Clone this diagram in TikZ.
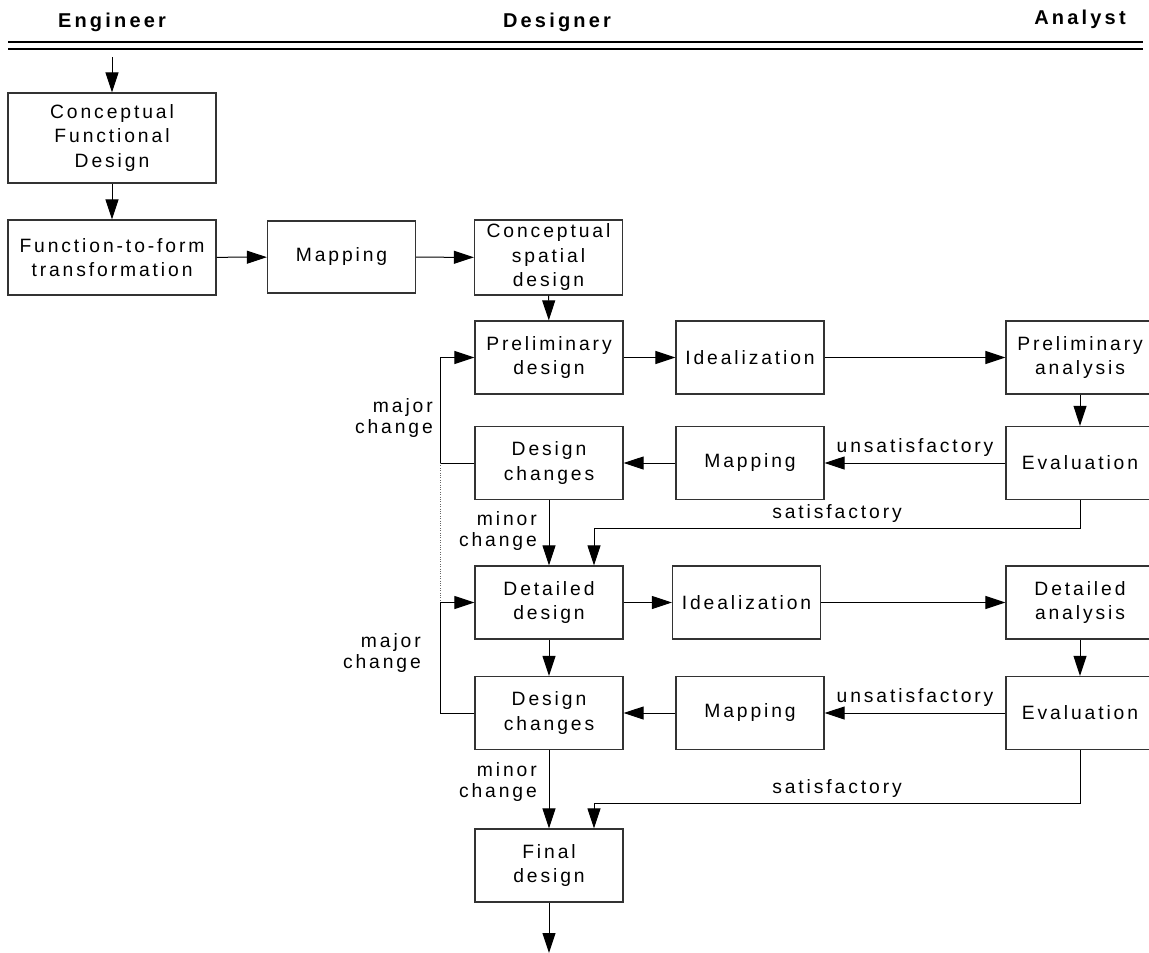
\documentclass[tikz,border=0pt]{standalone}
\usepackage{fontspec}
\setmainfont{Liberation Sans}[LetterSpace=15]
\newfontfamily\headfont{Liberation Sans}[LetterSpace=16]
\usetikzlibrary{arrows.meta}
\usetikzlibrary{positioning}
\tikzset{box/.style = {draw=black!80, line width=1.3pt, minimum width=148, minimum height=73, align=center, inner sep=0, font=\fontsize{19.3}{24.5}\selectfont}}
\tikzset{arr/.style = {-{Triangle[length=20pt, width=13pt]}, line width=1pt}}
\tikzset{lab/.style = {inner sep=0, align=right, font=\fontsize{19.3}{21}\selectfont}}
\tikzset{head/.style = {inner sep=0, font=\headfont\bfseries\fontsize{20}{22}\selectfont}}

\begin{document}
\begin{tikzpicture}[x=1pt, y=-1pt]
      \useasboundingbox (0, 0) rectangle (1149, 953);

      \node [head] (eng) at (112, 22) {Engineer};
      \node [head] (des) at (557, 22) {Designer};
      \node [head] (ana) at (1080, 19) {Analyst};
      \draw [line width=2.2pt] (8, 42) -- (1143, 42);
      \draw [line width=2.2pt] (8, 49) -- (1143, 49);

      \coordinate (start) at (112, 57);
      \node [box, minimum width=208, minimum height=90] (cfd) at (112, 138) {Conceptual\\Functional\\Design};
      \node [box, minimum width=208, minimum height=75] (ftf) at (112, 257.5) {Function-to-form\\transformation};
      \node [box, minimum height=72] (map0) at (341.5, 257) {Mapping};
      \node [box, minimum height=75] (csd) at (548.5, 257.5) {Conceptual\\spatial\\design};

      \node [box] (pd) at (549, 357.5) {Preliminary\\design};
      \node [box] (id1) at (750, 357.5) {Idealization};
      \node [box] (pa) at (1080, 357.5) {Preliminary\\analysis};
      \node [box] (dc1) at (549, 463) {Design\\changes};
      \node [box] (map1) at (750, 463) {Mapping};
      \node [box] (ev1) at (1080, 463) {Evaluation};

      \node [box] (dd) at (549, 602.5) {Detailed\\design};
      \node [box] (id2) at (746.5, 602.5) {Idealization};
      \node [box] (da) at (1080, 602.5) {Detailed\\analysis};
      \node [box] (dc2) at (549, 713) {Design\\changes};
      \node [box] (map2) at (750, 713) {Mapping};
      \node [box] (ev2) at (1080, 713) {Evaluation};

      \node [box] (fd) at (549, 865.5) {Final\\design};
      \coordinate (stop) at (549, 953);

      % engineer column
      \draw [arr] (start) -- (cfd);
      \draw [arr] (cfd) -- (ftf);
      \draw [arr] (ftf) -- (map0);
      \draw [arr] (map0) -- (csd);
      \draw [arr] (csd) -- (pd);

      % preliminary loop
      \draw [arr] (pd) -- (id1);
      \draw [arr] (id1) -- (pa);
      \draw [arr] (pa) -- (ev1);
      \draw [arr] (ev1) -- node [lab, above=6pt] (uns1) {unsatisfactory} (map1);
      \draw [arr] (map1) -- (dc1);
      \draw [arr] (dc1.west) -- ++(-34, 0) coordinate (j1) |- (pd.west);
      \draw [arr] (dc1) -- (dd);
      \draw [arr] (ev1.south) -- ++(0, 28) -| node [lab, pos=0.25, above=5pt] (sat1) {satisfactory} ([xshift=45]dd.north);
      \node [lab, anchor=east] (maj1) at (433, 418) {major\\change};
      \node [lab, anchor=east] (min1) at (537, 531) {minor\\change};

      % detailed loop
      \draw [black!60, dotted] (j1) -- (j1 |- dd.west);
      \draw [arr] (dd) -- (id2);
      \draw [arr] (id2) -- (da);
      \draw [arr] (da) -- (ev2);
      \draw [arr] (ev2) -- node [lab, above=6pt] (uns2) {unsatisfactory} (map2);
      \draw [arr] (map2) -- (dc2);
      \draw [arr] (dc2.west) -- ++(-34, 0) |- (dd.west);
      \draw [arr] (dd) -- (dc2);
      \draw [arr] (dc2) -- (fd);
      \draw [arr] (ev2.south) -- ++(0, 53) -| node [lab, pos=0.25, above=5pt] (sat2) {satisfactory} ([xshift=45]fd.north);
      \node [lab, anchor=east] (maj2) at (421, 653) {major\\change};
      \node [lab, anchor=east] (min2) at (537, 782) {minor\\change};

      \draw [arr] (fd) -- (stop);
    \end{tikzpicture}
\end{document}
